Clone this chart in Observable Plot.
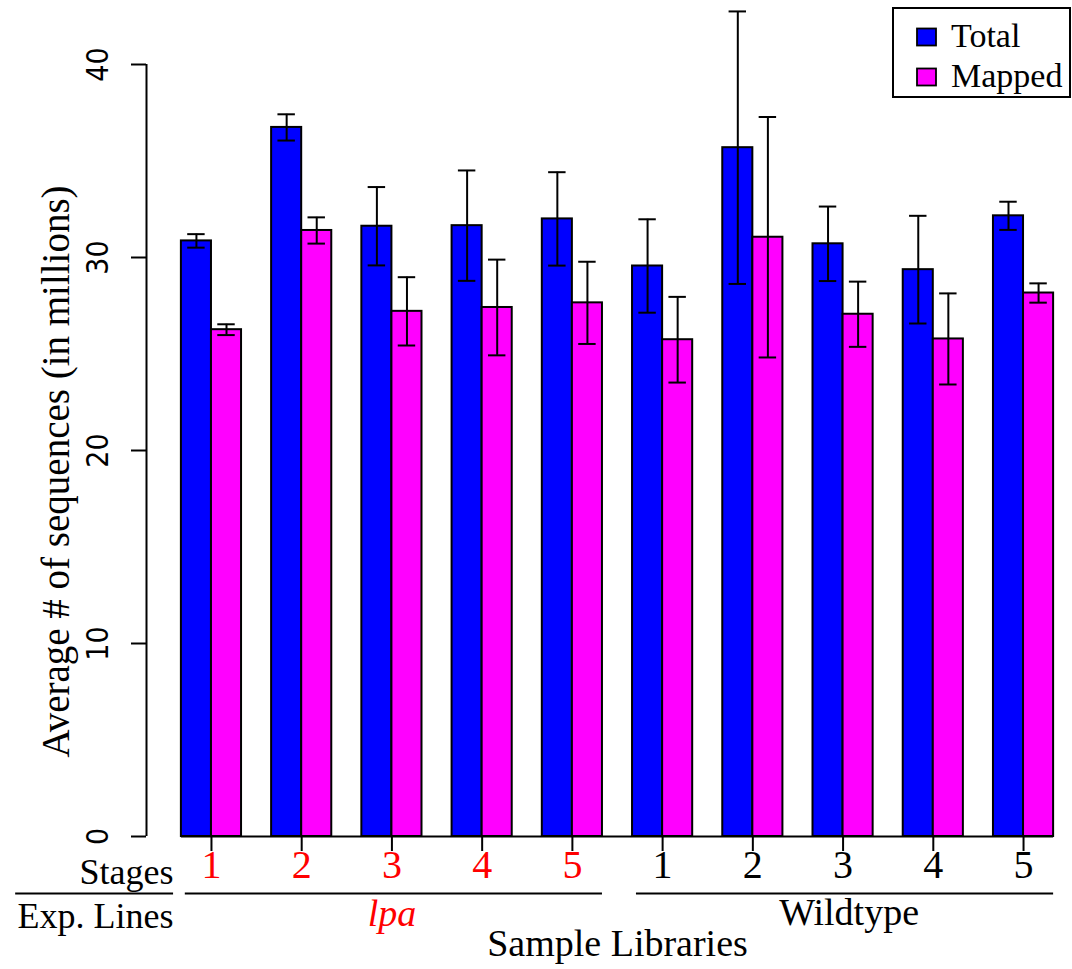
<!DOCTYPE html>
<html>
<head>
<meta charset="utf-8">
<script src="https://cdn.jsdelivr.net/npm/d3@7"></script>
<script src="https://cdn.jsdelivr.net/npm/@observablehq/plot@0.6"></script>
<style>
  html, body { margin: 0; padding: 0; background: #fff; overflow: hidden; }
</style>
</head>
<body>
<div id="chart"></div>
<script>
// ---------------- data ----------------
const stages = ["1", "2", "3", "4", "5"];
const expLines = ["lpa", "Wildtype"];
const series = ["Total", "Mapped"];
// values in millions, ordered lpa 1..5 then Wildtype 1..5
const totalMean  = [30.86, 36.74, 31.62, 31.65, 32.00, 29.56, 35.69, 30.71, 29.37, 32.16];
const totalErr   = [0.35, 0.68, 2.03, 2.86, 2.42, 2.42, 7.06, 1.93, 2.79, 0.73];
const mappedMean = [26.26, 31.40, 27.21, 27.41, 27.65, 25.74, 31.05, 27.06, 25.78, 28.16];
const mappedErr  = [0.28, 0.68, 1.77, 2.48, 2.13, 2.22, 6.23, 1.69, 2.36, 0.50];
const yTicks = [0, 10, 20, 30, 40];

// ---------------- styles ----------------
const seriesColors = ["#0000FF", "#FF00FF"];
const lineColors = ["#FF0000", "#000000"];
const serif = "'Liberation Serif', 'Times New Roman', serif";
const narrow = "'Liberation Sans Narrow', 'DejaVu Sans Condensed', 'Liberation Sans', sans-serif";

// ---------------- layout (R barplot style: space = c(0,1)) ----------------
const groups = expLines.flatMap((line, li) =>
  stages.map((stage, si) => {
    const i = li * stages.length + si;
    const left = 1 + 3 * i;
    return {line, li, stage, i, left, center: left + 1};
  })
);
const bars = groups.flatMap(g => [
  {series: series[0], s: 0, x1: g.left, x2: g.left + 1, mean: totalMean[g.i], err: totalErr[g.i]},
  {series: series[1], s: 1, x1: g.left + 1, x2: g.left + 2, mean: mappedMean[g.i], err: mappedErr[g.i]}
]).map(d => ({...d, c: (d.x1 + d.x2) / 2, lo: d.mean - d.err, hi: d.mean + d.err}));

const xMin = d3.min(bars, d => d.x1), xMax = d3.max(bars, d => d.x2);
const ext = 0.04 * (xMax - xMin);
const xLo = xMin - ext, xHi = xMax + ext;
const cap = 0.29;

const lineRows = expLines.map((line, li) => {
  const gs = groups.filter(g => g.li === li);
  const x1 = d3.min(gs, g => g.left), x2 = d3.max(gs, g => g.left + 2);
  return {line, li, x1, x2, mid: (x1 + x2) / 2};
});

const chart = Plot.plot({
  width: 1072,
  height: 969,
  marginLeft: 146,
  marginRight: -16,
  marginTop: 64,
  marginBottom: 133,
  style: {background: "#fff", overflow: "visible"},
  x: {type: "linear", domain: [xLo, xHi]},
  y: {type: "linear", domain: [0, 40]},
  color: {type: "identity"},
  marks: [
    // y axis
    Plot.axisY(yTicks, {tickSize: 15, tickFormat: () => "", strokeWidth: 2, label: null}),
    Plot.ruleX([xLo], {y1: 0, y2: 40, strokeWidth: 2}),
    Plot.text(yTicks, {y: d => d, frameAnchor: "left", text: d => String(d), rotate: -90,
      textAnchor: "middle", dx: -48.5, fontSize: 30, fontFamily: narrow, fill: "#000"}),
    Plot.text(["Average # of sequences (in millions)"], {frameAnchor: "left", text: d => d, rotate: -90,
      textAnchor: "middle", dx: -90, dy: 21, fontSize: 39, fontFamily: serif, fill: "#000"}),
    // bars
    Plot.rect(bars, {x1: "x1", x2: "x2", y1: 0, y2: "mean", fill: d => seriesColors[d.s],
      stroke: "#000", strokeWidth: 2}),
    // error bars
    Plot.ruleX(bars, {x: "c", y1: "lo", y2: "hi", stroke: "#000", strokeWidth: 2}),
    Plot.ruleY(bars, {y: "hi", x1: d => d.c - cap, x2: d => d.c + cap, stroke: "#000", strokeWidth: 2}),
    Plot.ruleY(bars, {y: "lo", x1: d => d.c - cap, x2: d => d.c + cap, stroke: "#000", strokeWidth: 2}),
    // baseline
    Plot.ruleY([0], {x1: xMin, x2: xMax, strokeWidth: 2}),
    // x axis ticks at stage centers
    Plot.axisX(groups.map(g => g.center), {tickSize: 15, tickFormat: () => "", strokeWidth: 2, label: null}),
    Plot.text(groups, {x: "center", y: 0, text: "stage", dy: 41, lineAnchor: "bottom",
      fill: d => lineColors[d.li], fontSize: 40, fontFamily: serif}),
    // row labels
    Plot.text(["Stages"], {frameAnchor: "bottom-left", text: d => d, textAnchor: "end", lineAnchor: "bottom",
      dx: 27, dy: 47, fontSize: 36, fontFamily: serif, fill: "#000"}),
    Plot.ruleY([0], {x1: xLo - 4.35, x2: xLo + 0.9, dy: 57, strokeWidth: 2}),
    Plot.text(["Exp. Lines"], {frameAnchor: "bottom-left", text: d => d, textAnchor: "end", lineAnchor: "bottom",
      dx: 27, dy: 91, fontSize: 36, fontFamily: serif, fill: "#000"}),
    // experiment line group rules and labels
    Plot.ruleY(lineRows, {y: 0, x1: d => d.x1 + 0.13, x2: "x2", dy: 57, strokeWidth: 2}),
    Plot.text(lineRows.filter(d => d.li === 0), {x: "mid", y: 0, text: "line", dy: 89, lineAnchor: "bottom",
      fill: lineColors[0], fontStyle: "italic", fontSize: 38, fontFamily: serif}),
    Plot.text(lineRows.filter(d => d.li === 1), {x: d => d.mid + 0.2, y: 0, text: "line", dy: 88, lineAnchor: "bottom",
      fill: lineColors[1], fontSize: 38, fontFamily: serif}),
    Plot.text(["Sample Libraries"], {frameAnchor: "bottom", text: d => d, lineAnchor: "bottom",
      dy: 119, fontSize: 38, fontFamily: serif, fill: "#000"})
  ]
});

document.getElementById("chart").appendChild(chart);

// ---------------- legend (top right box) ----------------
const svg = d3.select(chart);
const lg = svg.append("g");
lg.append("rect").attr("x", 893).attr("y", 8).attr("width", 177).attr("height", 89)
  .attr("fill", "#fff").attr("stroke", "#000").attr("stroke-width", 2);
series.forEach((s, i) => {
  lg.append("rect").attr("x", 917).attr("y", 28.5 + 40 * i).attr("width", 19).attr("height", 17)
    .attr("fill", seriesColors[i]).attr("stroke", "#000").attr("stroke-width", 1.8);
  lg.append("text").attr("x", 951).attr("y", 47 + 40 * i).text(s)
    .attr("text-anchor", "start")
    .attr("font-family", serif).attr("font-size", 34).attr("fill", "#000");
});
</script>
</body>
</html>
